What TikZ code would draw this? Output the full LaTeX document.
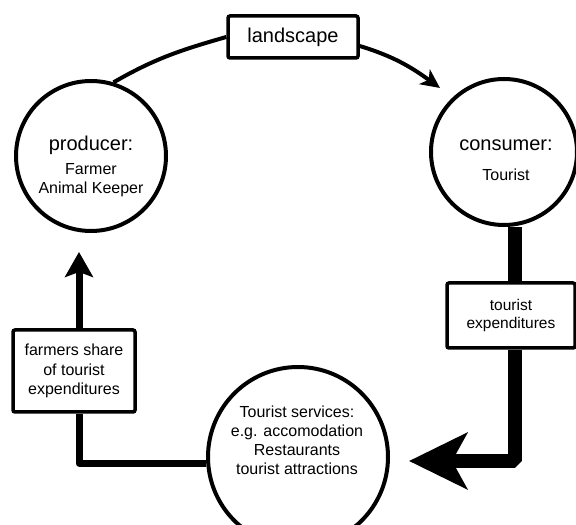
\documentclass[tikz,border=0pt]{standalone}
\usepackage{fontspec}
\setmainfont{Liberation Sans}
\usetikzlibrary{positioning, arrows.meta, calc}

\begin{document}
\begin{tikzpicture}[x=1pt, y=1pt,
    ring/.style={circle, draw, line width=4pt, inner sep=0pt},
    txt/.style={align=center, font=\fontsize{16}{19}\selectfont},
    tag/.style={draw, line width=3.5pt, rounded corners=2pt, inner sep=0pt, align=center},
    flow/.style={line width=7pt, line join=round}]
    \useasboundingbox (0,0) rectangle (576,525);
    \node[ring, minimum size=150pt] (prod) at (91,369) {};
    \node[txt] (prodtxt) at (91,359)
      {{\fontsize{20}{24}\selectfont producer:}\\[5pt] Farmer\\ Animal Keeper};
    \node[ring, minimum size=146pt] (cons) at (504,373) {};
    \node[txt] (constxt) at (506,365)
      {{\fontsize{20}{24}\selectfont consumer:}\\[11pt] Tourist};
    \node[ring, minimum size=180pt] (serv) at (298,68) {};
    \node[txt] (servtxt) at (297,85)
      {Tourist services:\\ e.g. accomodation\\ Restaurants\\ tourist attractions};
    \node[tag, minimum width=130pt, minimum height=42pt, font=\fontsize{20}{24}\selectfont]
      (land) at (293,488) {landscape};
    \node[tag, minimum width=128pt, minimum height=65pt, font=\fontsize{15.5}{17.5}\selectfont]
      (tour) at (511,209.5) {tourist\\ expenditures};
    \node[tag, minimum width=122pt, minimum height=82pt, font=\fontsize{16}{19.5}\selectfont]
      (farm) at (74,154) {farmers share\\ of tourist\\ expenditures};
    \coordinate (landtip) at (440,437);
    \coordinate (servtip) at (409,64);
    \coordinate (uptip) at (79,273);
    \draw[line width=4pt] (prod.73) to[out=30, in=196] (land.west);
    \draw[line width=4pt, -{Stealth[length=19pt, width=18pt, inset=5pt]}]
      ([yshift=-9pt]land.east) to[out=-17, in=144] (landtip);
    \draw[line width=14pt] ([xshift=4pt]tour.north) -- ([xshift=4pt]tour.north |- cons.south);
    \draw[line width=14pt, line join=bevel, -{Stealth[length=58pt, width=56pt, inset=15pt]}]
      ([xshift=4pt]tour.south) |- (servtip);
    \draw[flow] (serv.184.5) -| ([xshift=5pt]farm.south);
    \draw[flow, -{Stealth[length=25pt, width=28pt, inset=5pt]}]
      ([xshift=5pt]farm.north) -- (uptip);
\end{tikzpicture}
\end{document}
